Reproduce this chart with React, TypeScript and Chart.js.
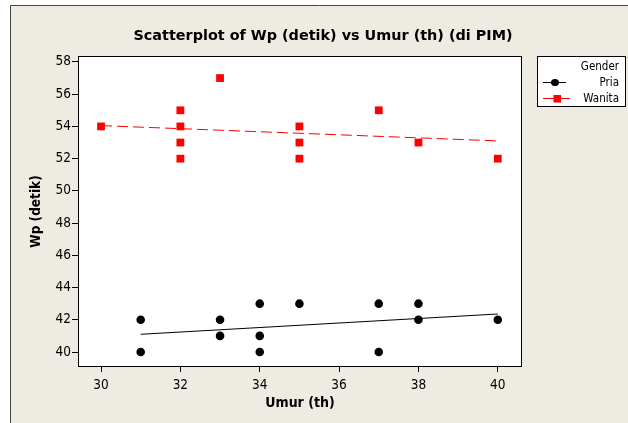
import React, { useEffect, useRef } from "react";
import { Chart, registerables } from "chart.js";

Chart.register(...registerables);

const chartTitle = "Scatterplot of Wp (detik) vs Umur (th) (di PIM)";
const xTitle = "Umur (th)";
const yTitle = "Wp (detik)";
const legendTitle = "Gender";
const seriesLabels = ["Pria", "Wanita"];

const priaX = [31, 31, 33, 33, 34, 34, 34, 35, 37, 37, 38, 38, 40];
const priaY = [42, 40, 42, 41, 43, 41, 40, 43, 43, 40, 43, 42, 42];
const wanitaX = [30, 32, 32, 32, 32, 33, 35, 35, 35, 37, 38, 40];
const wanitaY = [54, 55, 54, 53, 52, 57, 54, 53, 52, 55, 53, 52];

const priaFitX = [31, 40];
const priaFitY = [41.1, 42.36];
const wanitaFitX = [30, 40];
const wanitaFitY = [54.05, 53.1];

const xTicks = [30, 32, 34, 36, 38, 40];
const yTicks = [40, 42, 44, 46, 48, 50, 52, 54, 56, 58];

const FONT = "'DejaVu Sans Condensed', 'DejaVu Sans', sans-serif";
const TITLE_FONT = "'DejaVu Sans', sans-serif";
const BEIGE = "#EEEBE2";

const toPts = (xs: number[], ys: number[]) => xs.map((x, i) => ({ x, y: ys[i] }));

const framePlugin = {
  id: "framePlugin",
  beforeDraw(chart: any) {
    const { ctx, width, height, chartArea } = chart;
    ctx.save();
    ctx.fillStyle = "#ffffff";
    ctx.fillRect(0, 0, width, height);
    ctx.fillStyle = BEIGE;
    ctx.fillRect(10, 5, width - 10, height - 5);
    ctx.strokeStyle = "#444";
    ctx.lineWidth = 1;
    ctx.beginPath();
    ctx.moveTo(10.5, height);
    ctx.lineTo(10.5, 5.5);
    ctx.lineTo(width, 5.5);
    ctx.stroke();
    ctx.fillStyle = "#ffffff";
    ctx.fillRect(chartArea.left, chartArea.top, chartArea.right - chartArea.left, chartArea.bottom - chartArea.top);
    ctx.restore();
  },
  afterDraw(chart: any) {
    const { ctx, chartArea } = chart;
    ctx.save();
    ctx.strokeStyle = "#000";
    ctx.lineWidth = 1;
    ctx.strokeRect(
      Math.round(chartArea.left) + 0.5,
      Math.round(chartArea.top) + 0.5,
      Math.round(chartArea.right - chartArea.left) - 1,
      Math.round(chartArea.bottom - chartArea.top) - 1
    );
    ctx.fillStyle = "#000";
    ctx.font = `bold 14.4px ${TITLE_FONT}`;
    ctx.textAlign = "center";
    ctx.textBaseline = "middle";
    ctx.fillText(chartTitle, 323, 36);

    const bx = 537.5, by = 56.5, bw = 88, bh = 50;
    ctx.fillStyle = "#fff";
    ctx.fillRect(bx, by, bw, bh);
    ctx.strokeStyle = "#000";
    ctx.strokeRect(bx, by, bw, bh);
    ctx.font = `11.5px ${FONT}`;
    ctx.fillStyle = "#000";
    ctx.textAlign = "right";
    ctx.fillText(legendTitle, 619, 67);
    const ds = chart.data.datasets;
    ctx.strokeStyle = ds[0].borderColor;
    ctx.beginPath();
    ctx.moveTo(543, 82.5);
    ctx.lineTo(566, 82.5);
    ctx.stroke();
    ctx.fillStyle = ds[0].backgroundColor;
    ctx.beginPath();
    ctx.ellipse(555, 82.5, 4, 3.5, 0, 0, Math.PI * 2);
    ctx.fill();
    ctx.fillStyle = "#000";
    ctx.fillText(seriesLabels[0], 619, 83);
    ctx.strokeStyle = ds[1].borderColor;
    ctx.beginPath();
    ctx.moveTo(543, 98.5);
    ctx.lineTo(570, 98.5);
    ctx.stroke();
    ctx.fillStyle = ds[1].backgroundColor;
    ctx.fillRect(553.5, 95, 7.5, 7.5);
    ctx.fillStyle = "#000";
    ctx.fillText(seriesLabels[1], 619, 99);
    ctx.restore();
  },
};

export default function App() {
  const ref = useRef<HTMLCanvasElement>(null);
  useEffect(() => {
    if (!ref.current) return;
    const chart = new Chart(ref.current, {
      type: "scatter",
      data: {
        datasets: [
          {
            label: seriesLabels[0],
            data: toPts(priaX, priaY),
            backgroundColor: "#000000",
            borderColor: "#000000",
            pointStyle: "circle",
            pointRadius: 4.3,
            pointBorderWidth: 0,
            order: 0,
          },
          {
            label: seriesLabels[1],
            data: toPts(wanitaX, wanitaY),
            backgroundColor: "#FF0000",
            borderColor: "#FF0000",
            pointStyle: "rect",
            pointRadius: 5.5,
            pointBorderWidth: 0,
            order: 0,
          },
          {
            label: "Pria fit",
            data: toPts(priaFitX, priaFitY),
            showLine: true,
            borderColor: "#000000",
            borderWidth: 1,
            pointRadius: 0,
            order: 1,
          },
          {
            label: "Wanita fit",
            data: toPts(wanitaFitX, wanitaFitY),
            showLine: true,
            borderColor: "#FF0000",
            borderWidth: 1,
            borderDash: [11, 5],
            pointRadius: 0,
            order: 1,
          },
        ],
      },
      options: {
        animation: false,
        responsive: false,
        devicePixelRatio: 1,
        layout: { padding: { left: 0, top: 56, right: 106, bottom: 0 } },
        plugins: {
          legend: { display: false },
          tooltip: { enabled: false },
          title: { display: false },
        },
        scales: {
          x: {
            type: "linear",
            min: 29.42,
            max: 40.61,
            border: { display: false },
            grid: { drawOnChartArea: false, drawTicks: true, tickLength: 5, color: "#000" },
            afterBuildTicks: (s: any) => {
              s.ticks = xTicks.map((v) => ({ value: v }));
            },
            afterFit: (s: any) => {
              s.height = 56;
            },
            ticks: { color: "#000", font: { family: FONT, size: 13.5 }, padding: 5, maxRotation: 0 },
            title: {
              display: true,
              text: xTitle,
              color: "#000",
              font: { family: FONT, size: 14, weight: "bold" },
              padding: { top: 0, bottom: 11 },
            },
          },
          y: {
            type: "linear",
            min: 39.07,
            max: 58.37,
            border: { display: false },
            grid: { drawOnChartArea: false, drawTicks: true, tickLength: 6, color: "#000" },
            afterBuildTicks: (s: any) => {
              s.ticks = yTicks.map((v) => ({ value: v }));
            },
            afterFit: (s: any) => {
              s.width = 78;
            },
            ticks: { color: "#000", font: { family: FONT, size: 13.5 }, padding: 1 },
            title: {
              display: true,
              text: yTitle,
              color: "#000",
              font: { family: FONT, size: 13.5, weight: "bold" },
              padding: { top: 28, bottom: 0 },
            },
          },
        },
      },
      plugins: [framePlugin],
    });
    return () => chart.destroy();
  }, []);
  return (
    <div style={{ position: "fixed", left: 0, top: 0, width: 628, height: 423 }}>
      <canvas ref={ref} width={628} height={423} style={{ display: "block" }} />
    </div>
  );
}
